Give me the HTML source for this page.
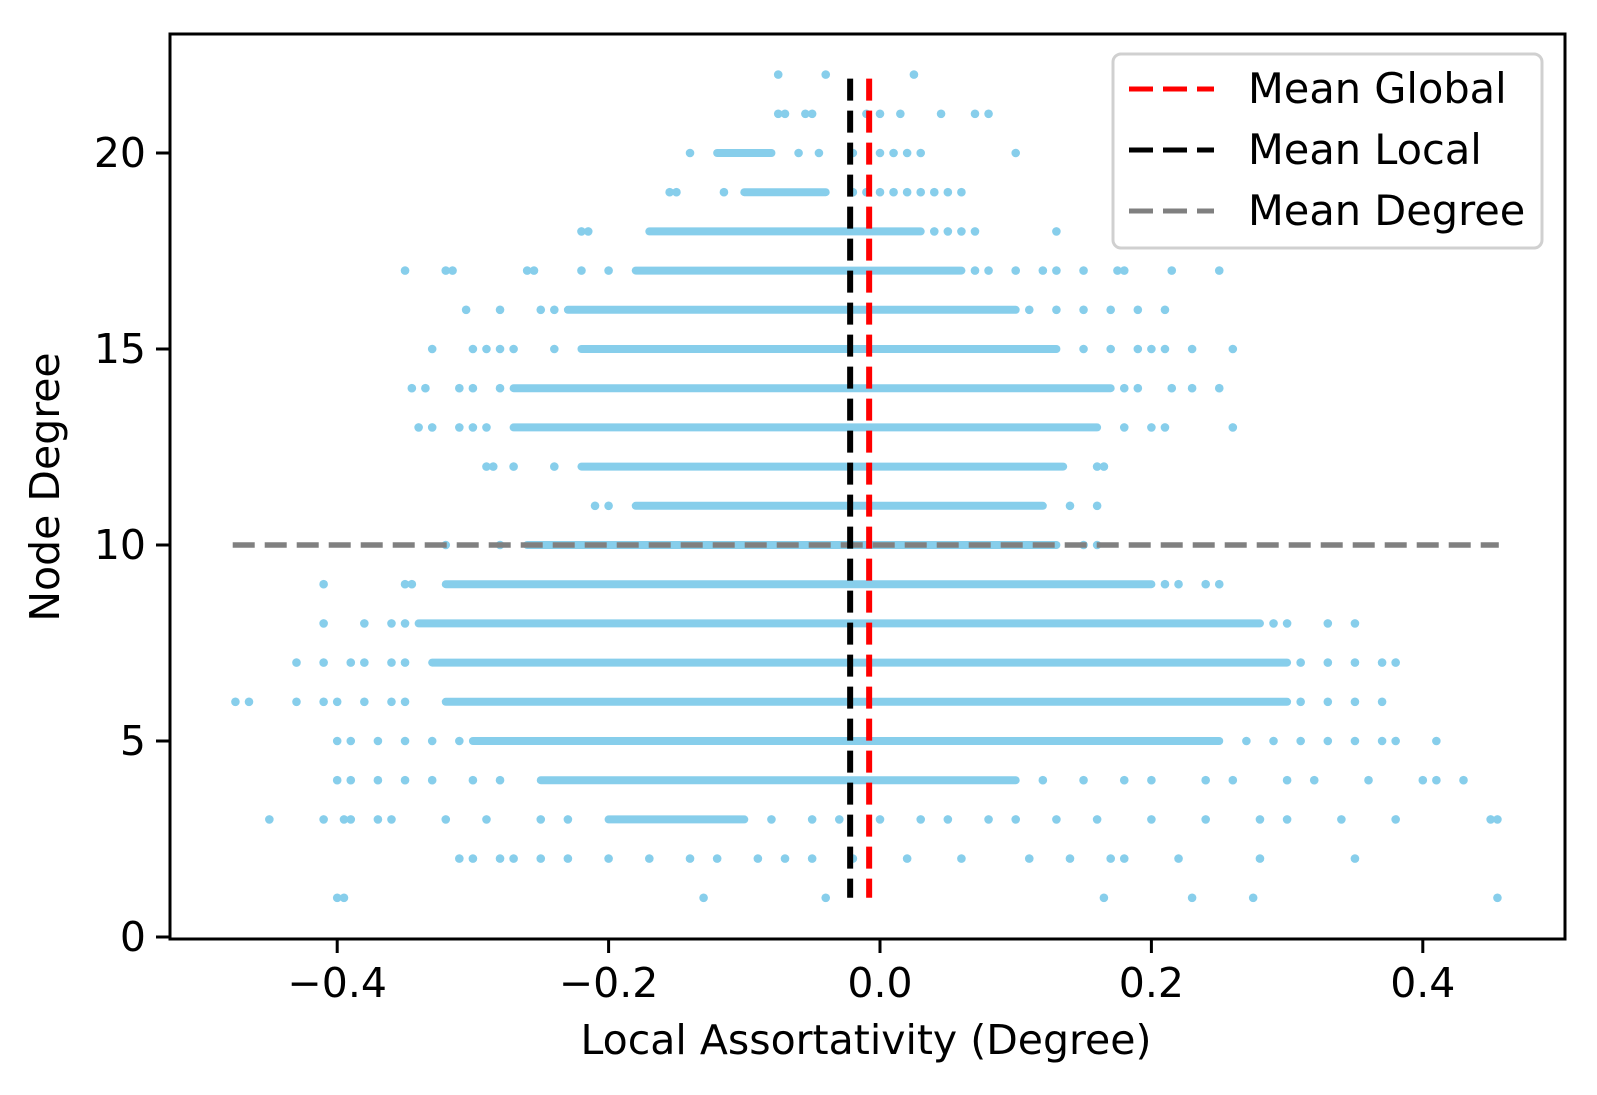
<!DOCTYPE html>
<html><head><meta charset="utf-8"><style>
html,body{margin:0;padding:0;background:#fff;width:1597px;height:1095px;overflow:hidden;}
svg{display:block;font-family:"DejaVu Sans","Liberation Sans",sans-serif;}
</style></head><body>
<svg id="chart" width="1597" height="1095" viewBox="0 0 1597 1095">
<g id="marks"></g>
<rect x="170" y="34" width="1395" height="905" fill="none" stroke="#000" stroke-width="3"/>
<g id="axes"></g>
<text x="866" y="1054" font-size="41" text-anchor="middle">Local Assortativity (Degree)</text>
<text transform="translate(59,487) rotate(-90)" font-size="41" text-anchor="middle">Node Degree</text>
<g>
<rect x="1113" y="54" width="429" height="194" rx="8" fill="#fff" fill-opacity="0.85" stroke="#d0d0d0" stroke-width="3"/>
<line x1="1129" y1="89" x2="1214" y2="89" stroke="#ff0000" stroke-width="5" stroke-dasharray="24,10"/>
<text x="1248" y="103" font-size="41.5">Mean Global</text>
<line x1="1129" y1="150" x2="1214" y2="150" stroke="#000" stroke-width="5" stroke-dasharray="24,10"/>
<text x="1248" y="164" font-size="41.5">Mean Local</text>
<line x1="1129" y1="211" x2="1214" y2="211" stroke="#808080" stroke-width="5" stroke-dasharray="24,10"/>
<text x="1248" y="225" font-size="41.5">Mean Degree</text>
</g>
</svg>
<script>
const degrees = [22,21,20,19,18,17,16,15,14,13,12,11,10,9,8,7,6,5,4,3,2,1];
const denseLo = [null,null,-0.12,-0.1,-0.17,-0.18,-0.23,-0.22,-0.27,-0.27,-0.22,-0.18,-0.26,-0.32,-0.34,-0.33,-0.32,-0.3,-0.25,-0.2,null,null];
const denseHi = [null,null,-0.08,-0.04,0.03,0.06,0.1,0.13,0.17,0.16,0.135,0.12,0.13,0.2,0.28,0.3,0.3,0.25,0.1,-0.1,null,null];
const outliers = [
 [-0.075,-0.04,0.025],
 [-0.075,-0.07,-0.055,-0.05,-0.01,0.0,0.015,0.045,0.07,0.08],
 [-0.14,-0.06,-0.045,-0.02,0.0,0.01,0.02,0.03,0.1],
 [-0.155,-0.15,-0.115,-0.02,-0.01,0.0,0.01,0.02,0.03,0.04,0.05,0.06],
 [-0.22,-0.215,0.04,0.05,0.06,0.07,0.13],
 [-0.35,-0.32,-0.315,-0.26,-0.255,-0.22,-0.2,0.07,0.08,0.1,0.12,0.13,0.15,0.175,0.18,0.215,0.25],
 [-0.305,-0.28,-0.25,-0.24,0.11,0.13,0.15,0.17,0.19,0.21],
 [-0.33,-0.3,-0.29,-0.28,-0.27,-0.24,0.15,0.17,0.19,0.2,0.21,0.23,0.26],
 [-0.345,-0.335,-0.31,-0.3,-0.28,0.18,0.19,0.215,0.23,0.25],
 [-0.34,-0.33,-0.31,-0.3,-0.29,0.18,0.2,0.21,0.26],
 [-0.29,-0.285,-0.27,-0.24,0.16,0.165],
 [-0.21,-0.2,0.14,0.16],
 [-0.32,-0.28,0.15,0.16],
 [-0.41,-0.35,-0.345,0.21,0.22,0.24,0.25],
 [-0.41,-0.38,-0.36,-0.35,0.29,0.3,0.33,0.35],
 [-0.43,-0.41,-0.39,-0.38,-0.36,-0.35,0.31,0.33,0.35,0.37,0.38],
 [-0.475,-0.465,-0.43,-0.41,-0.4,-0.38,-0.36,-0.35,0.31,0.33,0.35,0.37],
 [-0.4,-0.39,-0.37,-0.35,-0.33,-0.31,0.27,0.29,0.31,0.33,0.35,0.37,0.38,0.41],
 [-0.4,-0.39,-0.37,-0.35,-0.33,-0.3,-0.28,0.12,0.15,0.18,0.2,0.24,0.26,0.3,0.32,0.36,0.4,0.41,0.43],
 [-0.45,-0.41,-0.395,-0.39,-0.37,-0.36,-0.32,-0.29,-0.25,-0.23,-0.08,-0.05,-0.03,0.0,0.03,0.05,0.08,0.1,0.13,0.16,0.2,0.24,0.28,0.3,0.34,0.38,0.45,0.455],
 [-0.31,-0.3,-0.28,-0.27,-0.25,-0.23,-0.2,-0.17,-0.14,-0.12,-0.09,-0.07,-0.05,-0.02,0.02,0.06,0.11,0.14,0.17,0.18,0.22,0.28,0.35],
 [-0.4,-0.395,-0.13,-0.04,0.165,0.23,0.275,0.455]
];
const meanGlobal = -0.008, meanLocal = -0.022, meanDegree = 10;
const xTicks = [-0.4,-0.2,0.0,0.2,0.4];
const xTickLabels = ["\u22120.4","\u22120.2","0.0","0.2","0.4"];
const yTicks = [0,5,10,15,20];
const yTickLabels = ["0","5","10","15","20"];

const NS = "http://www.w3.org/2000/svg";
const X = v => 880 + v * 1357;
const Y = v => 937 - v * 39.2;
const marks = document.getElementById('marks');
const axes = document.getElementById('axes');
function mk(tag, attrs, parent){const e=document.createElementNS(NS,tag);for(const k in attrs)e.setAttribute(k,attrs[k]);parent.appendChild(e);return e;}

degrees.forEach((d,i)=>{
  if(denseLo[i]!==null){
    const l = mk('line',{x1:X(denseLo[i]),x2:X(denseHi[i]),y1:Y(d),y2:Y(d),stroke:'#87ceeb','stroke-width':8,'stroke-linecap':'round'},marks);
    
    
  }
  outliers[i].forEach(v=>{
    const c = mk('circle',{cx:X(v),cy:Y(d),r:4.3,fill:'#87ceeb'},marks);
    
    
  });
});
let l1 = mk('line',{x1:X(-0.477),x2:X(0.456),y1:Y(meanDegree),y2:Y(meanDegree),stroke:'#808080','stroke-width':5.5,'stroke-dasharray':'22,10'},marks);


let l2 = mk('line',{x1:X(meanLocal),x2:X(meanLocal),y1:Y(22)+4,y2:Y(1),stroke:'#000','stroke-width':6,'stroke-dasharray':'22,10'},marks);


let l3 = mk('line',{x1:X(meanGlobal),x2:X(meanGlobal),y1:Y(22)+4,y2:Y(1),stroke:'#ff0000','stroke-width':6,'stroke-dasharray':'22,10'},marks);



xTicks.forEach((v,i)=>{
  const t = mk('line',{x1:X(v),x2:X(v),y1:939,y2:953,stroke:'#000','stroke-width':3},axes);
  
  
  const tx = mk('text',{x:X(v),y:997,'font-size':41,'text-anchor':'middle'},axes);
  tx.textContent = xTickLabels[i];
  
  
});
yTicks.forEach((v,i)=>{
  const t = mk('line',{x1:156,x2:170,y1:Y(v),y2:Y(v),stroke:'#000','stroke-width':3},axes);
  
  
  const tx = mk('text',{x:146,y:Y(v)+14,'font-size':41,'text-anchor':'end'},axes);
  tx.textContent = yTickLabels[i];
  
  
});
</script>
</body></html>
